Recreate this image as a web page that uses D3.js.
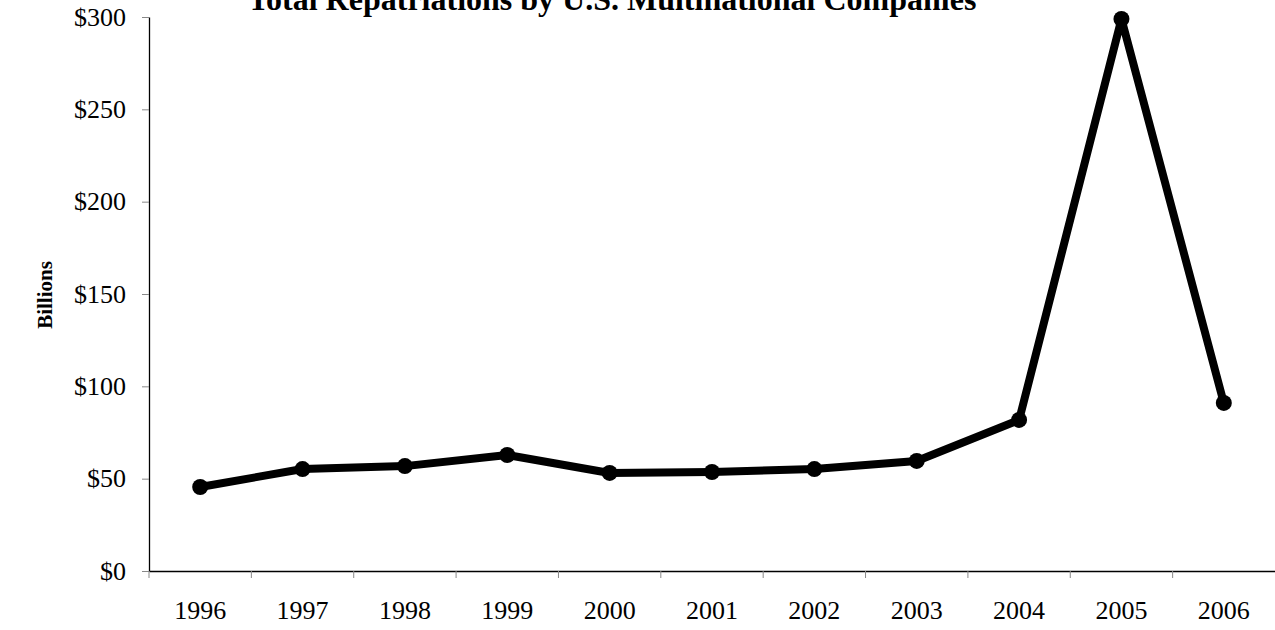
<!DOCTYPE html>
<html>
<head>
    <title>Total Repatriations by U.S. Multinational Companies</title>
    <script src="https://d3js.org/d3.v7.min.js"></script>
    <style>
        body { margin: 0; background: #fff; }
        svg text { font-family: "Liberation Serif", "Times New Roman", serif; fill: #000; }
    </style>
</head>
<body>
<svg id="chart" width="1275" height="630"></svg>
<script>
    // datos (miles de millones de USD)
    const years = ["1996", "1997", "1998", "1999", "2000", "2001", "2002", "2003", "2004", "2005", "2006"];
    const repatriations = [45.5, 55.2, 56.8, 62.8, 53.1, 53.6, 55.2, 59.6, 81.8, 298.9, 91.0];
    const yTicks = [0, 50, 100, 150, 200, 250, 300];

    const svg = d3.select("#chart");
    const margin = { top: 17, right: 0, bottom: 59, left: 149 };
    const width = +svg.attr("width");
    const height = +svg.attr("height");

    const x = d3.scaleBand()
        .domain(years)
        .range([margin.left, width - margin.right]);

    const y = d3.scaleLinear()
        .domain([0, 300])
        .range([height - margin.bottom, margin.top]);

    // eje y
    const yAxis = svg.append("g")
        .attr("transform", `translate(${margin.left},0)`)
        .call(d3.axisLeft(y).tickValues(yTicks).tickFormat(d => "$" + d).tickSize(7).tickSizeOuter(0));
    yAxis.select(".domain").attr("stroke", "#000").attr("stroke-width", 1.3);
    yAxis.selectAll(".tick line").attr("stroke", "#888");
    yAxis.selectAll(".tick text").attr("font-size", 26).attr("x", -23);

    // eje x
    const xAxis = svg.append("g")
        .attr("transform", `translate(0,${height - margin.bottom})`)
        .call(d3.axisBottom(x).tickSize(0).tickSizeOuter(0));
    xAxis.select(".domain").attr("stroke", "#000").attr("stroke-width", 1.3);
    xAxis.selectAll(".tick text").attr("font-size", 26).attr("y", 30);

    // marcas entre categorias
    svg.append("g")
        .selectAll("line")
        .data(years)
        .join("line")
        .attr("x1", d => x(d)).attr("x2", d => x(d))
        .attr("y1", height - margin.bottom)
        .attr("y2", height - margin.bottom + 7)
        .attr("stroke", "#888");

    const line = d3.line()
        .x((d, i) => x(years[i]) + x.bandwidth() / 2)
        .y(d => y(d));

    svg.append("path")
        .datum(repatriations)
        .attr("fill", "none")
        .attr("stroke", "#000")
        .attr("stroke-width", 8)
        .attr("stroke-linejoin", "round")
        .attr("d", line);

    svg.append("g")
        .selectAll("circle")
        .data(repatriations)
        .join("circle")
        .attr("cx", (d, i) => x(years[i]) + x.bandwidth() / 2)
        .attr("cy", d => y(d))
        .attr("r", 8)
        .attr("fill", "#000");

    // titulo (cortado arriba como en el original)
    svg.append("text")
        .attr("x", 612)
        .attr("y", 10)
        .attr("text-anchor", "middle")
        .attr("font-size", 32)
        .attr("font-weight", "bold")
        .text("Total Repatriations by U.S. Multinational Companies");

    // etiqueta del eje y
    svg.append("text")
        .attr("transform", "translate(52,295) rotate(-90)")
        .attr("text-anchor", "middle")
        .attr("font-size", 21)
        .attr("font-weight", "bold")
        .text("Billions");
</script>
</body>
</html>
